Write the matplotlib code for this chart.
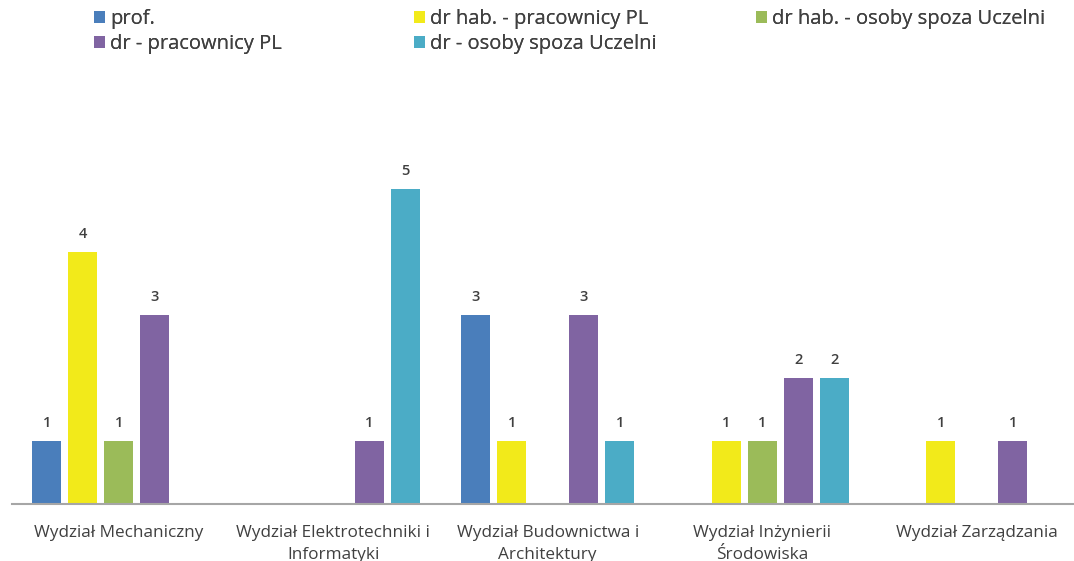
import matplotlib
matplotlib.use("Agg")
import matplotlib.pyplot as plt
import numpy as np

categories = ["Wydział Mechaniczny", "Wydział Elektrotechniki i\nInformatyki",
              "Wydział Budownictwa i\nArchitektury", "Wydział Inżynierii\nŚrodowiska",
              "Wydział Zarządzania"]
series_names = ["prof.", "dr hab. - pracownicy PL", "dr hab. - osoby spoza Uczelni",
                "dr - pracownicy PL", "dr - osoby spoza Uczelni"]
prof = [1, 0, 3, 0, 0]
drhab_pl = [4, 0, 1, 1, 1]
drhab_spoza = [1, 0, 0, 1, 0]
dr_pl = [3, 1, 3, 2, 1]
dr_spoza = [0, 5, 1, 2, 0]
colors = ["#4a7ebb", "#f2ea1a", "#9bbb59", "#8064a2", "#4bacc6"]

values = [prof, drhab_pl, drhab_spoza, dr_pl, dr_spoza]

plt.rcParams['font.family'] = ['Open Sans', 'DejaVu Sans']
fig = plt.figure(figsize=(10.74, 5.61), dpi=100)
W, H = 1074, 561
ax = fig.add_axes([11.5 / W, (H - 504) / H, 5 * 214.5 / W, 378 / H])

x = np.arange(len(categories))
step = 0.168
bw = 0.135
containers = []
for i, (vals, col) in enumerate(zip(values, colors)):
    xs = x + (i - 2) * step
    bars = ax.bar(xs, vals, width=bw, color=col, label=series_names[i], zorder=2)
    containers.append(bars)
    for xi, v in zip(xs, vals):
        if v > 0:
            ax.annotate(str(v), (xi, v), xytext=(0, 8), textcoords="offset points",
                        ha="center", va="bottom", fontsize=10.5, color="#404040",
                        fontweight="semibold")

ax.set_xlim(-0.5, len(categories) - 0.5)
ax.set_ylim(0, 6)
ax.set_yticks([])
ax.set_xticks(x)
ax.set_xticklabels(categories, fontsize=12.3, color="#404040", linespacing=1.5)
ax.tick_params(axis="x", length=0, pad=15)
for s in ["top", "right", "left"]:
    ax.spines[s].set_visible(False)
ax.spines["bottom"].set_color("#a6a6a6")
ax.spines["bottom"].set_linewidth(1.5)
ax.spines["bottom"].set_zorder(3)

# legend: three columns
cols = [(0, 3), (1, 4), (2,)]
col_x = [86, 406, 748]
for cx, idxs in zip(col_x, cols):
    leg = fig.legend([containers[j] for j in idxs], [series_names[j] for j in idxs],
                     loc="upper left", bbox_to_anchor=(cx / W, 1 - 1 / H),
                     frameon=False, handlelength=0.55, handleheight=0.55,
                     handletextpad=0.25, labelspacing=0.25, borderaxespad=0,
                     labelcolor="#404040", prop={"weight": "medium", "size": 14.5})
    fig.add_artist(leg)

fig.savefig("out.png", dpi=100)
